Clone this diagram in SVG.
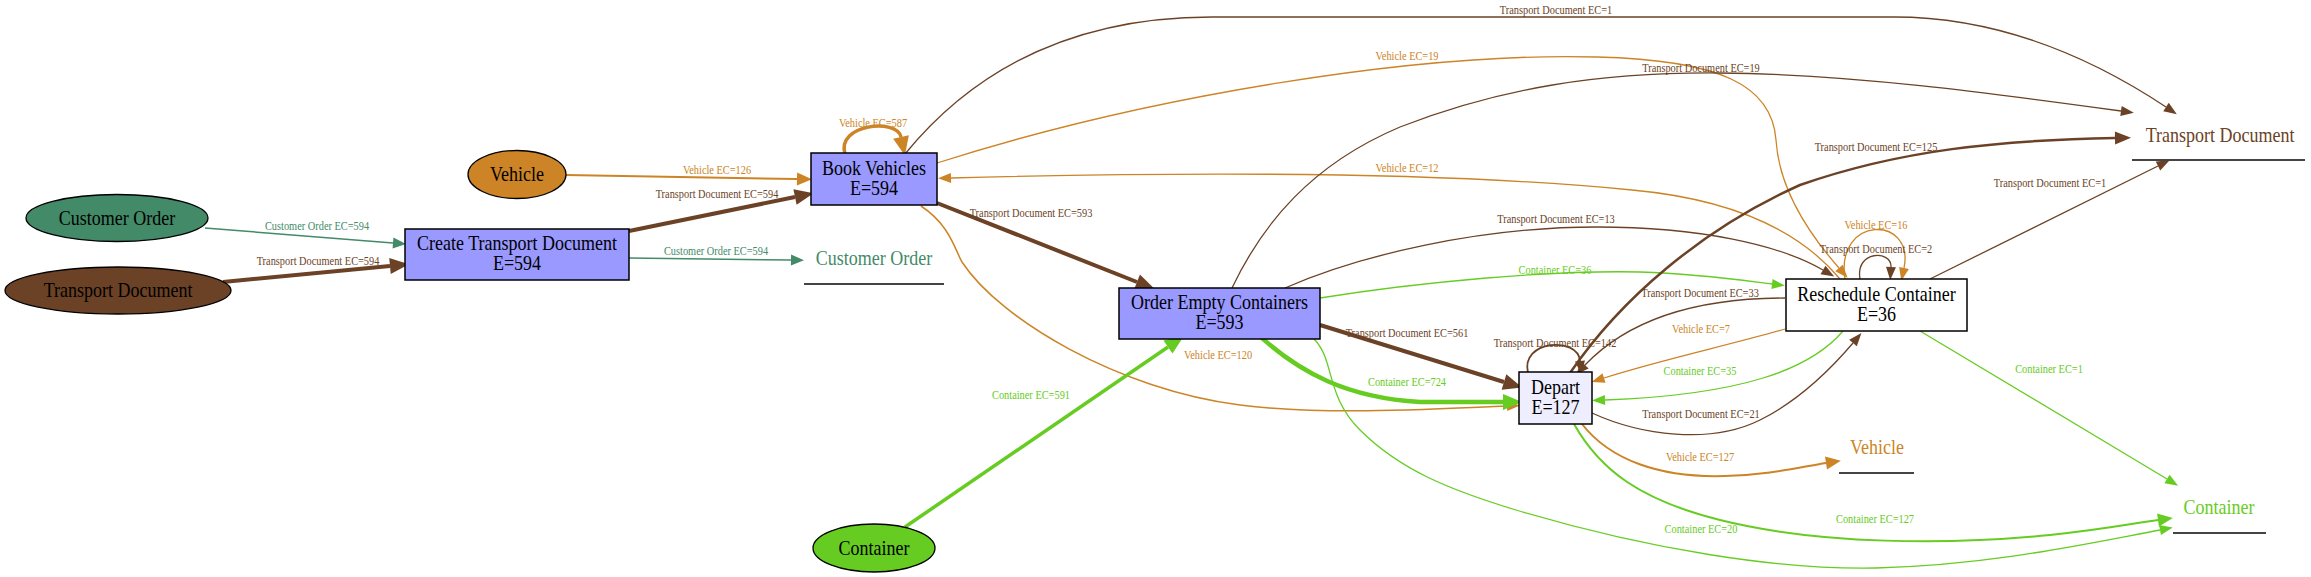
<svg xmlns="http://www.w3.org/2000/svg" width="2311" height="577" viewBox="0 0 2311 577">
<style>
text{font-family:"Liberation Serif","Times New Roman",serif;text-anchor:middle;transform-box:fill-box;transform-origin:center;transform:scaleX(0.9)}
.n{font-size:20px;fill:#000}
.l{font-size:11.5px}
.e{fill:none}
.br{stroke:#6b4226}.or{stroke:#cc8426}.gr{stroke:#66cc22}.co{stroke:#428a68}
.tbr{fill:#6b4226}.tor{fill:#cc8426}.tgr{fill:#66cc22}.tco{fill:#428a68}
.box{stroke:#000;stroke-width:1.5}
.ell{stroke:#000;stroke-width:1.3}
.ul{stroke:#444;stroke-width:2}
</style>
<defs>
<marker id="br-s" markerUnits="userSpaceOnUse" viewBox="0 -15 30 30" markerWidth="30" markerHeight="30" refX="0" refY="0" orient="auto" overflow="visible"><path d="M0,-5L13,0L0,5z" fill="#6b4226"/></marker>
<marker id="br-m" markerUnits="userSpaceOnUse" viewBox="0 -15 30 30" markerWidth="30" markerHeight="30" refX="0" refY="0" orient="auto" overflow="visible"><path d="M0,-6.5L16,0L0,6.5z" fill="#6b4226"/></marker>
<marker id="br-l" markerUnits="userSpaceOnUse" viewBox="0 -15 30 30" markerWidth="30" markerHeight="30" refX="0" refY="0" orient="auto" overflow="visible"><path d="M0,-8L19,0L0,8z" fill="#6b4226"/></marker>
<marker id="or-s" markerUnits="userSpaceOnUse" viewBox="0 -15 30 30" markerWidth="30" markerHeight="30" refX="0" refY="0" orient="auto" overflow="visible"><path d="M0,-5L13,0L0,5z" fill="#cc8426"/></marker>
<marker id="or-m" markerUnits="userSpaceOnUse" viewBox="0 -15 30 30" markerWidth="30" markerHeight="30" refX="0" refY="0" orient="auto" overflow="visible"><path d="M0,-6.5L15,0L0,6.5z" fill="#cc8426"/></marker>
<marker id="or-l" markerUnits="userSpaceOnUse" viewBox="0 -15 30 30" markerWidth="30" markerHeight="30" refX="0" refY="0" orient="auto" overflow="visible"><path d="M0,-8L19,0L0,8z" fill="#cc8426"/></marker>
<marker id="gr-s" markerUnits="userSpaceOnUse" viewBox="0 -15 30 30" markerWidth="30" markerHeight="30" refX="0" refY="0" orient="auto" overflow="visible"><path d="M0,-5L13,0L0,5z" fill="#66cc22"/></marker>
<marker id="gr-m" markerUnits="userSpaceOnUse" viewBox="0 -15 30 30" markerWidth="30" markerHeight="30" refX="0" refY="0" orient="auto" overflow="visible"><path d="M0,-6.5L15,0L0,6.5z" fill="#66cc22"/></marker>
<marker id="gr-l" markerUnits="userSpaceOnUse" viewBox="0 -15 30 30" markerWidth="30" markerHeight="30" refX="0" refY="0" orient="auto" overflow="visible"><path d="M0,-8L19,0L0,8z" fill="#66cc22"/></marker>
<marker id="co-s" markerUnits="userSpaceOnUse" viewBox="0 -15 30 30" markerWidth="30" markerHeight="30" refX="0" refY="0" orient="auto" overflow="visible"><path d="M0,-5.5L13,0L0,5.5z" fill="#428a68"/></marker>
</defs>
<rect width="2311" height="577" fill="#fff"/>

<g id="connectors">
<path class="e co" stroke-width="1.5" d="M205,228 L393,243" marker-end="url(#co-s)"/>
<text class="l tco" x="317" y="230">Customer Order EC=594</text>
<path class="e br" stroke-width="4" d="M223,282 L390,266" marker-end="url(#br-l)"/>
<text class="l tbr" x="318" y="265">Transport Document EC=594</text>
<path class="e co" stroke-width="1.5" d="M629,258 L791,260" marker-end="url(#co-s)"/>
<text class="l tco" x="716" y="255">Customer Order EC=594</text>
<path class="e br" stroke-width="4" d="M629,231 L795,197" marker-end="url(#br-l)"/>
<text class="l tbr" x="717" y="198">Transport Document EC=594</text>
<path class="e or" stroke-width="2" d="M566,175 L797,179" marker-end="url(#or-m)"/>
<text class="l tor" x="717" y="174">Vehicle EC=126</text>
<path class="e or" stroke-width="3.5" d="M845,154 C836,124 897,118 901,137" marker-end="url(#or-l)"/>
<text class="l tor" x="873" y="127">Vehicle EC=587</text>
<path class="e br" stroke-width="1.3" d="M905,154 C990,50 1100,17 1212,17 L1894,17 C1990,17 2080,50 2166,107" marker-end="url(#br-s)"/>
<text class="l tbr" x="1556" y="14">Transport Document EC=1</text>
<path class="e or" stroke-width="1.3" d="M937,163 C1150,95 1420,52 1597,57 C1720,60 1772,85 1776,140 C1779,190 1810,235 1839,268" marker-end="url(#or-s)"/>
<text class="l tor" x="1407" y="60">Vehicle EC=19</text>
<path class="e or" stroke-width="1.3" d="M1840,279 C1795,225 1720,198 1632,190 C1480,175 1250,170 951,178" marker-end="url(#or-s)"/>
<text class="l tor" x="1407" y="172">Vehicle EC=12</text>
<path class="e br" stroke-width="4" d="M937,203 L1137,282" marker-end="url(#br-l)"/>
<text class="l tbr" x="1031" y="217">Transport Document EC=593</text>
<path class="e or" stroke-width="1.5" d="M921,206 C950,225 955,250 962,262 C1000,320 1120,390 1240,405 C1320,415 1420,410 1507,406" marker-end="url(#or-s)"/>
<text class="l tor" x="1218" y="359">Vehicle EC=120</text>
<path class="e br" stroke-width="1.3" d="M1232,288 C1262,225 1310,165 1400,127 C1500,88 1600,72 1720,73 C1850,74 1990,93 2121,111" marker-end="url(#br-s)"/>
<text class="l tbr" x="1701" y="72">Transport Document EC=19</text>
<path class="e br" stroke-width="1.3" d="M1285,288 C1360,255 1480,227 1597,227 C1700,227 1780,245 1823,270" marker-end="url(#br-s)"/>
<text class="l tbr" x="1556" y="223">Transport Document EC=13</text>
<path class="e gr" stroke-width="1.3" d="M1320,298 C1420,282 1550,270 1640,272 C1700,274 1740,280 1772,284" marker-end="url(#gr-s)"/>
<text class="l tgr" x="1555" y="274">Container EC=36</text>
<path class="e br" stroke-width="4" d="M1320,325 L1504,382" marker-end="url(#br-l)"/>
<text class="l tbr" x="1407" y="337">Transport Document EC=561</text>
<path class="e gr" stroke-width="4.5" d="M1252,329 C1300,375 1350,398 1420,402 L1503,402" marker-end="url(#gr-l)"/>
<text class="l tgr" x="1407" y="386">Container EC=724</text>
<path class="e gr" stroke-width="1.3" d="M1314,339 C1335,360 1325,395 1360,430 C1400,470 1450,490 1516,510 C1650,550 1780,570 1876,568 C1990,565 2080,545 2160,530" marker-end="url(#gr-s)"/>
<text class="l tgr" x="1701" y="533">Container EC=20</text>
<path class="e gr" stroke-width="3.5" d="M905,527 L1168,347" marker-end="url(#gr-l)"/>
<text class="l tgr" x="1031" y="399">Container EC=591</text>
<path class="e br" stroke-width="1.8" d="M1528,373 C1520,340 1578,336 1580,361" marker-end="url(#br-s)"/>
<text class="l tbr" x="1555" y="347">Transport Document EC=142</text>
<path class="e br" stroke-width="1.3" d="M1785,298 C1700,298 1630,318 1585,365" marker-end="url(#br-s)"/>
<text class="l tbr" x="1700" y="297">Transport Document EC=33</text>
<path class="e or" stroke-width="1.3" d="M1785,329 C1730,345 1660,360 1604,378" marker-end="url(#or-s)"/>
<text class="l tor" x="1701" y="333">Vehicle EC=7</text>
<path class="e gr" stroke-width="1.3" d="M1843,331 C1810,370 1740,395 1605,400" marker-end="url(#gr-s)"/>
<text class="l tgr" x="1700" y="375">Container EC=35</text>
<path class="e br" stroke-width="1.3" d="M1592,413 C1640,435 1710,445 1760,420 C1800,400 1830,370 1853,343" marker-end="url(#br-s)"/>
<text class="l tbr" x="1701" y="418">Transport Document EC=21</text>
<path class="e br" stroke-width="2.5" d="M1570,373 C1620,300 1700,230 1800,185 C1900,150 2000,140 2115,138" marker-end="url(#br-m)"/>
<text class="l tbr" x="1876" y="151">Transport Document EC=125</text>
<path class="e br" stroke-width="1.3" d="M1930,279 L2158,166" marker-end="url(#br-s)"/>
<text class="l tbr" x="2050" y="187">Transport Document EC=1</text>
<path class="e or" stroke-width="1.3" d="M1845,279 C1835,215 1915,215 1904,268" marker-end="url(#or-s)"/>
<text class="l tor" x="1876" y="229">Vehicle EC=16</text>
<path class="e br" stroke-width="1.3" d="M1860,279 C1855,250 1892,250 1891,267" marker-end="url(#br-s)"/>
<text class="l tbr" x="1876" y="253">Transport Document EC=2</text>
<path class="e gr" stroke-width="1.3" d="M1920,331 L2167,479" marker-end="url(#gr-s)"/>
<text class="l tgr" x="2049" y="373">Container EC=1</text>
<path class="e or" stroke-width="2" d="M1582,424 C1610,460 1660,478 1725,476 C1770,475 1800,467 1826,463" marker-end="url(#or-m)"/>
<text class="l tor" x="1700" y="461">Vehicle EC=127</text>
<path class="e gr" stroke-width="2" d="M1574,424 C1600,470 1640,500 1720,520 C1820,545 1950,545 2050,535 C2100,530 2130,524 2158,520" marker-end="url(#gr-m)"/>
<text class="l tgr" x="1875" y="523">Container EC=127</text>
</g>

<g id="n-customer-order-src"><ellipse class="ell" cx="117" cy="218" rx="91" ry="23.5" fill="#428a68"/><text class="n" x="117" y="224.6">Customer Order</text></g>
<g id="n-transport-document-src"><ellipse class="ell" cx="118" cy="290.5" rx="113" ry="23.5" fill="#6b4226"/><text class="n" x="118" y="297">Transport Document</text></g>
<g id="n-vehicle-src"><ellipse class="ell" cx="517" cy="174.5" rx="49" ry="24" fill="#cc8426"/><text class="n" x="517" y="181">Vehicle</text></g>
<g id="n-container-src"><ellipse class="ell" cx="874" cy="548" rx="61" ry="24" fill="#66cc22"/><text class="n" x="874" y="554.6">Container</text></g>

<g id="n-create-transport-document"><rect class="box" x="405" y="229" width="224" height="51" fill="#9999ff"/><text class="n" x="517" y="250.5">Create Transport Document</text><text class="n" x="517" y="270.5">E=594</text></g>
<g id="n-book-vehicles"><rect class="box" x="811" y="153" width="126" height="52" fill="#9999ff"/><text class="n" x="874" y="175">Book Vehicles</text><text class="n" x="874" y="195">E=594</text></g>
<g id="n-order-empty-containers"><rect class="box" x="1119" y="288" width="201" height="51" fill="#9999ff"/><text class="n" x="1219.5" y="309.5">Order Empty Containers</text><text class="n" x="1219.5" y="329.5">E=593</text></g>
<g id="n-depart"><rect class="box" x="1519" y="372" width="73" height="52" fill="#eeeeff"/><text class="n" x="1555.5" y="394.5">Depart</text><text class="n" x="1555.5" y="414.5">E=127</text></g>
<g id="n-reschedule-container"><rect class="box" x="1786" y="279" width="181" height="52" fill="#ffffff"/><text class="n" x="1876.5" y="301">Reschedule Container</text><text class="n" x="1876.5" y="321">E=36</text></g>

<g id="n-customer-order-sink"><text class="n tco" x="874" y="265">Customer Order</text><line class="ul" x1="804" y1="284" x2="944" y2="284"/></g>
<g id="n-transport-document-sink"><text class="n tbr" x="2220" y="142">Transport Document</text><line class="ul" x1="2132" y1="160" x2="2305" y2="160"/></g>
<g id="n-vehicle-sink"><text class="n tor" x="1877" y="454">Vehicle</text><line class="ul" x1="1839" y1="473" x2="1914" y2="473"/></g>
<g id="n-container-sink"><text class="n tgr" x="2219" y="514">Container</text><line class="ul" x1="2173" y1="533" x2="2266" y2="533"/></g>
</svg>
